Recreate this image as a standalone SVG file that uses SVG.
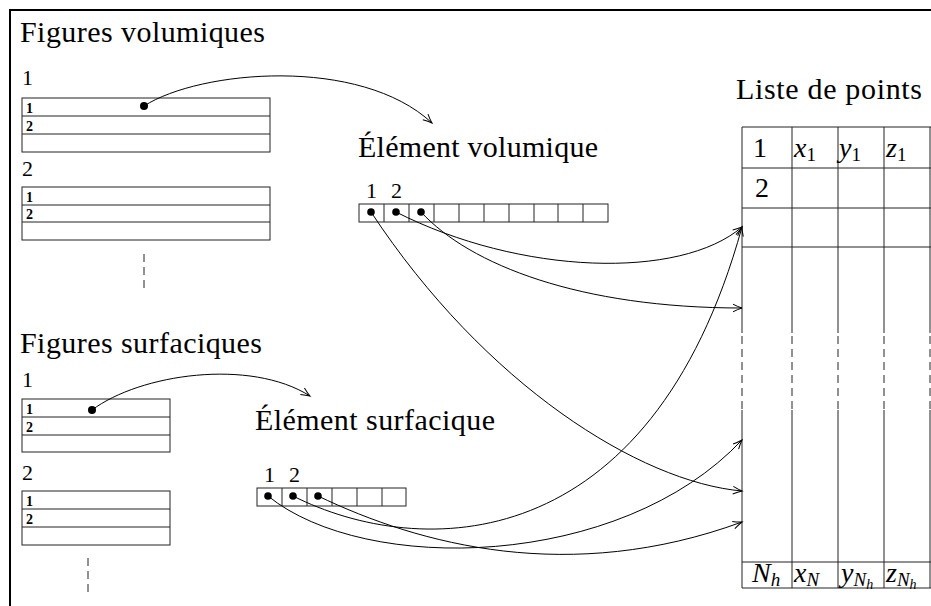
<svg xmlns="http://www.w3.org/2000/svg" width="931" height="606" viewBox="0 0 931 606">
<style>
text{font-family:"Liberation Serif","Times New Roman",serif;fill:#000}
.h{font-size:30px}
.lab{font-size:22px}
.sm{font-size:14px;font-weight:bold}
.tt{font-size:28px}
.mi{font-style:italic}
.sub{font-size:19px}
.subs{font-size:14px}
.cell{fill:#fff;stroke:#222;stroke-width:1}
.ln{stroke:#222;stroke-width:1;fill:none}
.dash{stroke:#222;stroke-width:1;fill:none;stroke-dasharray:8 5}
.con{fill:none;stroke:#000;stroke-width:1}
.dot{fill:#000}
</style>
<defs>
<marker id="arr" viewBox="-11 -6 13 12" refX="0" refY="0" markerWidth="13" markerHeight="12" markerUnits="userSpaceOnUse" orient="auto">
<path d="M-9,-3.8 Q-4,-1.2 0,0 Q-4,1.2 -9,3.8" fill="none" stroke="#000" stroke-width="1"/>
</marker>
</defs>
<rect width="931" height="606" fill="#fff"/>
<path d="M10,606 V10 H931" fill="none" stroke="#000" stroke-width="2"/>

<g id="figures-volumiques">
<text class="h" x="20" y="42" textLength="245">Figures volumiques</text>
</g>
<g id="fig-vol-1">
<text class="lab" x="22" y="85">1</text>
<rect class="cell" x="22" y="98" width="248" height="54"/>
<path class="ln" d="M22,116H270M22,134H270"/>
<text class="sm" x="26" y="113">1</text>
<text class="sm" x="26" y="131">2</text>
</g>
<g id="fig-vol-2">
<text class="lab" x="22" y="176">2</text>
<rect class="cell" x="22" y="187" width="248" height="53"/>
<path class="ln" d="M22,205H270M22,222H270"/>
<text class="sm" x="26" y="202">1</text>
<text class="sm" x="26" y="219">2</text>
</g>
<g id="fig-vol-more">
<path class="dash" d="M144,254V292"/>
</g>

<g id="figures-surfaciques">
<text class="h" x="20" y="353" textLength="242">Figures surfaciques</text>
</g>
<g id="fig-surf-1">
<text class="lab" x="22" y="387">1</text>
<rect class="cell" x="22" y="399" width="148" height="53"/>
<path class="ln" d="M22,417H170M22,435H170"/>
<text class="sm" x="26" y="414">1</text>
<text class="sm" x="26" y="432">2</text>
</g>
<g id="fig-surf-2">
<text class="lab" x="22" y="480">2</text>
<rect class="cell" x="22" y="491" width="148" height="54"/>
<path class="ln" d="M22,509H170M22,527H170"/>
<text class="sm" x="26" y="506">1</text>
<text class="sm" x="26" y="524">2</text>
</g>
<g id="fig-surf-more">
<path class="dash" d="M88,558V596"/>
</g>

<g id="element-volumique">
<text class="h" x="358" y="157" textLength="240">Élément volumique</text>
<text class="lab" x="366" y="198">1</text>
<text class="lab" x="391" y="198">2</text>
<rect class="cell" x="359" y="204" width="249" height="18"/>
<path class="ln" d="M384,204V222M409,204V222M434,204V222M459,204V222M484,204V222M509,204V222M534,204V222M558,204V222M583,204V222"/>
</g>

<g id="element-surfacique">
<text class="h" x="255" y="430" textLength="240">Élément surfacique</text>
<text class="lab" x="264" y="482">1</text>
<text class="lab" x="289" y="482">2</text>
<rect class="cell" x="257" y="488" width="149" height="18"/>
<path class="ln" d="M282,488V506M307,488V506M332,488V506M357,488V506M382,488V506"/>
</g>

<g id="liste-de-points">
<text class="h" x="736" y="99" textLength="186">Liste de points</text>
<path class="ln" d="M742,127H931M742,168H931M742,208H931M742,247H931M742,562H931M742,588H931"/>
<path class="ln" d="M742,127V333M742,410V588M792,127V333M792,410V588M838,127V333M838,410V588M884,127V333M884,410V588M930,127V333M930,410V588"/>
<path class="dash" d="M742,336V410M792,336V410M838,336V410M884,336V410M930,336V410" stroke-dasharray="9 5"/>
<text class="tt" x="753" y="157">1</text>
<text class="tt mi" x="794" y="157">x<tspan class="sub" font-style="normal" dy="4">1</tspan></text>
<text class="tt mi" x="839" y="157">y<tspan class="sub" font-style="normal" dy="4">1</tspan></text>
<text class="tt mi" x="886" y="157">z<tspan class="sub" font-style="normal" dy="4">1</tspan></text>
<text class="tt" x="755" y="197">2</text>
<text class="tt mi" x="752" y="582">N<tspan class="sub" dy="4">h</tspan></text>
<text class="tt mi" x="794" y="582">x<tspan class="sub" dy="4">N</tspan></text>
<text class="tt mi" x="841" y="582">y<tspan class="sub" dy="4">N</tspan><tspan class="subs" dy="3">h</tspan></text>
<text class="tt mi" x="886" y="582">z<tspan class="sub" dy="4">N</tspan><tspan class="subs" dy="3">h</tspan></text>
</g>

<g id="connectors">
<circle class="dot" cx="144" cy="106" r="4"/>
<path class="con" d="M144,106 C200,70 360,56 432,123" marker-end="url(#arr)"/>
<circle class="dot" cx="92" cy="410" r="4"/>
<path class="con" d="M92,410 C140,374 250,358 310,396" marker-end="url(#arr)"/>

<circle class="dot" cx="371" cy="212" r="3.8"/>
<circle class="dot" cx="396" cy="212" r="3.8"/>
<circle class="dot" cx="421" cy="212" r="3.8"/>
<path class="con" d="M396,212 C520,275 680,280 742,227" marker-end="url(#arr)"/>
<path class="con" d="M421,212 C470,265 580,308 742,308" marker-end="url(#arr)"/>
<path class="con" d="M371,212 C485,385 640,482 742,491" marker-end="url(#arr)"/>

<circle class="dot" cx="268" cy="496" r="3.8"/>
<circle class="dot" cx="293" cy="496" r="3.8"/>
<circle class="dot" cx="318" cy="496" r="3.8"/>
<path class="con" d="M268,496 C365,575 620,570 742,440" marker-end="url(#arr)"/>
<path class="con" d="M293,496 C420,560 650,560 742,227" marker-end="url(#arr)"/>
<path class="con" d="M318,496 C420,545 570,585 742,522" marker-end="url(#arr)"/>
</g>
</svg>
